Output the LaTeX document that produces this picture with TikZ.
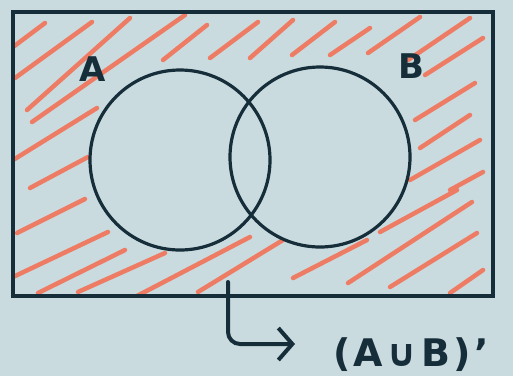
\documentclass[tikz,border=0pt]{standalone}
\usepackage{fontspec}
\setmainfont{DejaVu Sans}
\usetikzlibrary{arrows.meta}
\definecolor{paperblue}{RGB}{201,219,222}
\definecolor{inkdark}{RGB}{22,46,58}
\definecolor{hatchred}{RGB}{238,124,100}

\begin{document}
\begin{tikzpicture}[
  x=1pt, y=-1pt,
  ink/.style={draw=inkdark, line width=3.2pt},
  hatch/.style={draw=hatchred, line width=4.5pt, line cap=round},
  setlbl/.style={text=inkdark, font=\bfseries\fontsize{34}{34}\selectfont, inner sep=0pt},
  arr/.style={-{Straight Barb[length=14pt,width=32pt,line width=4pt]}, draw=inkdark,
    line width=4pt, line cap=round, rounded corners=12pt}
]
\useasboundingbox[fill=paperblue] (0,0) rectangle (513,376);

% hatching outside both sets
\begin{scope}
\clip (13,12) rectangle (493,296);
\foreach \xa/\ya/\xb/\yb in {
  5/53/45/23, 15/78/92/22, 27/110/130/18, 32/122/185/15,
  163/60/207/25, 210/58/258/22, 250/58/293/20, 292/55/335/22,
  330/55/370/28, 368/53/420/17, 408/60/470/18, 425/75/483/38,
  5/165/97/108, 30/188/88/157, 415/120/475/83, 420/148/470/115,
  410/180/480/140, 450/190/483/172, 17/233/85/199, 13/277/108/232,
  38/293/125/250, 78/292/165/253, 135/297/250/237, 198/292/283/240,
  293/278/367/240, 380/232/457/190, 348/283/472/202, 390/287/477/233,
  450/293/483/270}
  \draw[hatch] (\xa,\ya) -- (\xb,\yb);
\end{scope}

% sets
\fill[paperblue] (180,160) circle[radius=90];
\fill[paperblue] (320,157) circle[radius=90];
\draw[ink] (180,160) circle[radius=90];
\draw[ink] (320,157) circle[radius=90];
\node[draw=inkdark, line width=3.5pt, minimum width=480pt, minimum height=284pt,
  inner sep=0pt] (U) at (253,154) {};

\node[setlbl] (A) at (93,69) {A};
\node[setlbl] (B) at (411,66) {B};

% complement label
\node[setlbl, anchor=base west,
  font=\bfseries\fontsize{38}{38}\selectfont\addfontfeature{LetterSpace=9}]
  (AuB) at (333,366) {(A∪B)'};
\coordinate (start) at (228,282);
\coordinate (tip) at (295,344);
\draw[arr] (start) |- (tip);

\end{tikzpicture}
\end{document}
